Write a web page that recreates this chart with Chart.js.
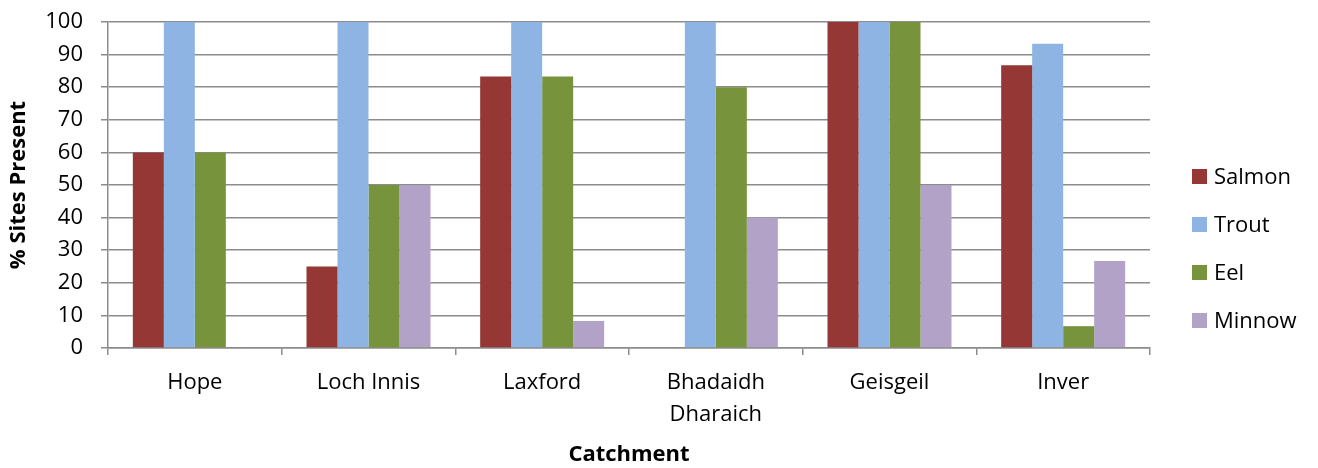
<!DOCTYPE html>
<html>
<head>
<meta charset="utf-8">
<script src="https://cdn.jsdelivr.net/npm/chart.js@4/dist/chart.umd.min.js"></script>
<style>
  html, body { margin: 0; padding: 0; background: #fff; }
  #wrap { width: 1318px; height: 468px; position: relative; }
</style>
</head>
<body>
<div id="wrap"><canvas id="c" width="1318" height="468"></canvas></div>
<script>
// Catchments along the x axis
const catchments = ['Hope', 'Loch Innis', 'Laxford', ['Bhadaidh', 'Dharaich'], 'Geisgeil', 'Inver'];

// % of sites where each species was present
const salmon = [60, 25, 83.3, 0, 100, 86.7];
const trout  = [100, 100, 100, 100, 100, 93.3];
const eel    = [60, 50, 83.3, 80, 100, 6.7];
const minnow = [0, 50, 8.3, 40, 50, 26.7];

const speciesNames = ['Salmon', 'Trout', 'Eel', 'Minnow'];
const yTicks = [0, 10, 20, 30, 40, 50, 60, 70, 80, 90, 100];

const colours = ['#953735', '#8EB4E3', '#77933C', '#B3A2C7'];
const FONT = '"Open Sans", Lato, sans-serif';
const GRID = '#8c8c8c';

// Legend drawn at the right, one swatch + label per dataset
const sideLegend = {
  id: 'sideLegend',
  afterDraw(chart) {
    const ctx = chart.ctx;
    ctx.save();
    ctx.font = '22px ' + FONT;
    ctx.textBaseline = 'middle';
    ctx.textAlign = 'left';
    chart.data.datasets.forEach((ds, i) => {
      const cy = 176.5 + i * 48;
      ctx.fillStyle = ds.backgroundColor;
      ctx.fillRect(1192, cy - 7.5, 15, 15);
      ctx.fillStyle = '#000';
      ctx.fillText(ds.label, 1214, cy + 1);
    });
    ctx.restore();
  }
};

const seriesValues = [salmon, trout, eel, minnow];

new Chart(document.getElementById('c'), {
  type: 'bar',
  data: {
    labels: catchments,
    datasets: speciesNames.map((name, i) => ({
      label: name,
      data: seriesValues[i],
      backgroundColor: colours[i],
      borderWidth: 0,
      barPercentage: 1.0,
      categoryPercentage: 0.714
    }))
  },
  options: {
    responsive: false,
    animation: false,
    layout: { padding: { top: 22, right: 168, left: 0, bottom: 0 } },
    plugins: {
      legend: { display: false },
      tooltip: { enabled: false }
    },
    scales: {
      x: {
        grid: {
          offset: true,
          drawOnChartArea: false,
          drawTicks: true,
          tickLength: 7,
          color: GRID,
          lineWidth: 1.5
        },
        border: { color: GRID, width: 1.5 },
        ticks: {
          color: '#000',
          font: { family: FONT, size: 22, lineHeight: 1.45 },
          padding: 12,
          maxRotation: 0,
          autoSkip: false
        },
        title: {
          display: true,
          text: 'Catchment',
          color: '#000',
          font: { family: FONT, size: 22, weight: 'bold' },
          padding: { top: 0, bottom: 0 }
        },
        afterFit(scale) { scale.height = 120; }
      },
      y: {
        min: 0,
        max: 100,
        afterBuildTicks(scale) { scale.ticks = yTicks.map(v => ({ value: v })); },
        grid: {
          color: GRID,
          lineWidth: 1.5,
          drawTicks: true,
          tickLength: 7
        },
        border: { color: GRID, width: 1.5 },
        ticks: {
          color: '#000',
          font: { family: FONT, size: 22 },
          padding: 18
        },
        title: {
          display: true,
          text: '% Sites Present',
          color: '#000',
          font: { family: FONT, size: 22, weight: 'bold' },
          padding: { top: 6, bottom: 0 }
        },
        afterFit(scale) {
          scale.width = 108;
          scale.paddingTop = 0;
          scale.paddingBottom = 0;
        }
      }
    }
  },
  plugins: [sideLegend]
});
</script>
</body>
</html>
